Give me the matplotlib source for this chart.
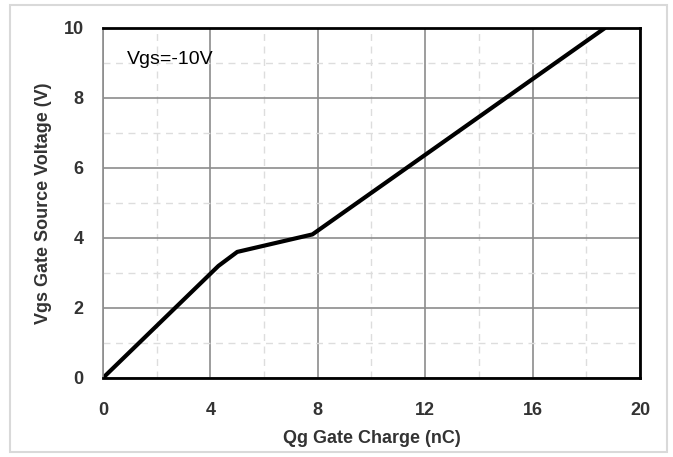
import matplotlib
matplotlib.use("Agg")
import matplotlib.pyplot as plt
from matplotlib.patches import Rectangle
from matplotlib.ticker import MultipleLocator

# gate charge curve
qg = [0, 4.3, 5.0, 7.8, 18.7]
vgs = [0, 3.2, 3.6, 4.1, 10]
xticks = [0, 4, 8, 12, 16, 20]
yticks = [0, 2, 4, 6, 8, 10]

plt.rcParams['font.family'] = ['Liberation Sans', 'DejaVu Sans']

fig = plt.figure(figsize=(6.73, 4.57), dpi=100)
ax = fig.add_axes([0.153, 0.173, 0.798, 0.766])

# light frame round the whole chart
fig.patches.append(Rectangle((0.015, 0.01), 0.976, 0.98, transform=fig.transFigure,
                             fill=False, edgecolor='#d9d9d9', linewidth=1.5))

ax.plot(qg, vgs, color='black', linewidth=3, solid_capstyle='butt')

ax.set_xlim(0, 20)
ax.set_ylim(0, 10)
ax.set_xticks(xticks)
ax.set_yticks(yticks)
ax.xaxis.set_minor_locator(MultipleLocator(2))
ax.yaxis.set_minor_locator(MultipleLocator(1))
ax.grid(which='major', color='#8c8c8c', linewidth=1.2)
ax.grid(which='minor', color='#dddddd', linewidth=1, linestyle=(0, (5, 4)))
ax.set_axisbelow(True)
ax.tick_params(which='both', length=0)
ax.tick_params(axis='x', pad=17)
ax.tick_params(axis='y', pad=14)
for lab in ax.get_xticklabels() + ax.get_yticklabels():
    lab.set_fontweight('bold')
    lab.set_fontsize(13)
    lab.set_color('#333333')

for s in ['top', 'right', 'bottom']:
    ax.spines[s].set_linewidth(2)
    ax.spines[s].set_color('black')
ax.spines['left'].set_color('#8c8c8c')
ax.spines['left'].set_linewidth(1.2)

ax.set_xlabel('Qg Gate Charge (nC)', fontsize=13, fontweight='bold', color='#333333', labelpad=8)
ax.set_ylabel('Vgs Gate Source Voltage (V)', fontsize=13, fontweight='bold', color='#333333', labelpad=8)

ax.text(0.9, 9.1, 'Vgs=-10V', fontsize=14, color='black', va='center')

fig.savefig('out.png', dpi=100)
